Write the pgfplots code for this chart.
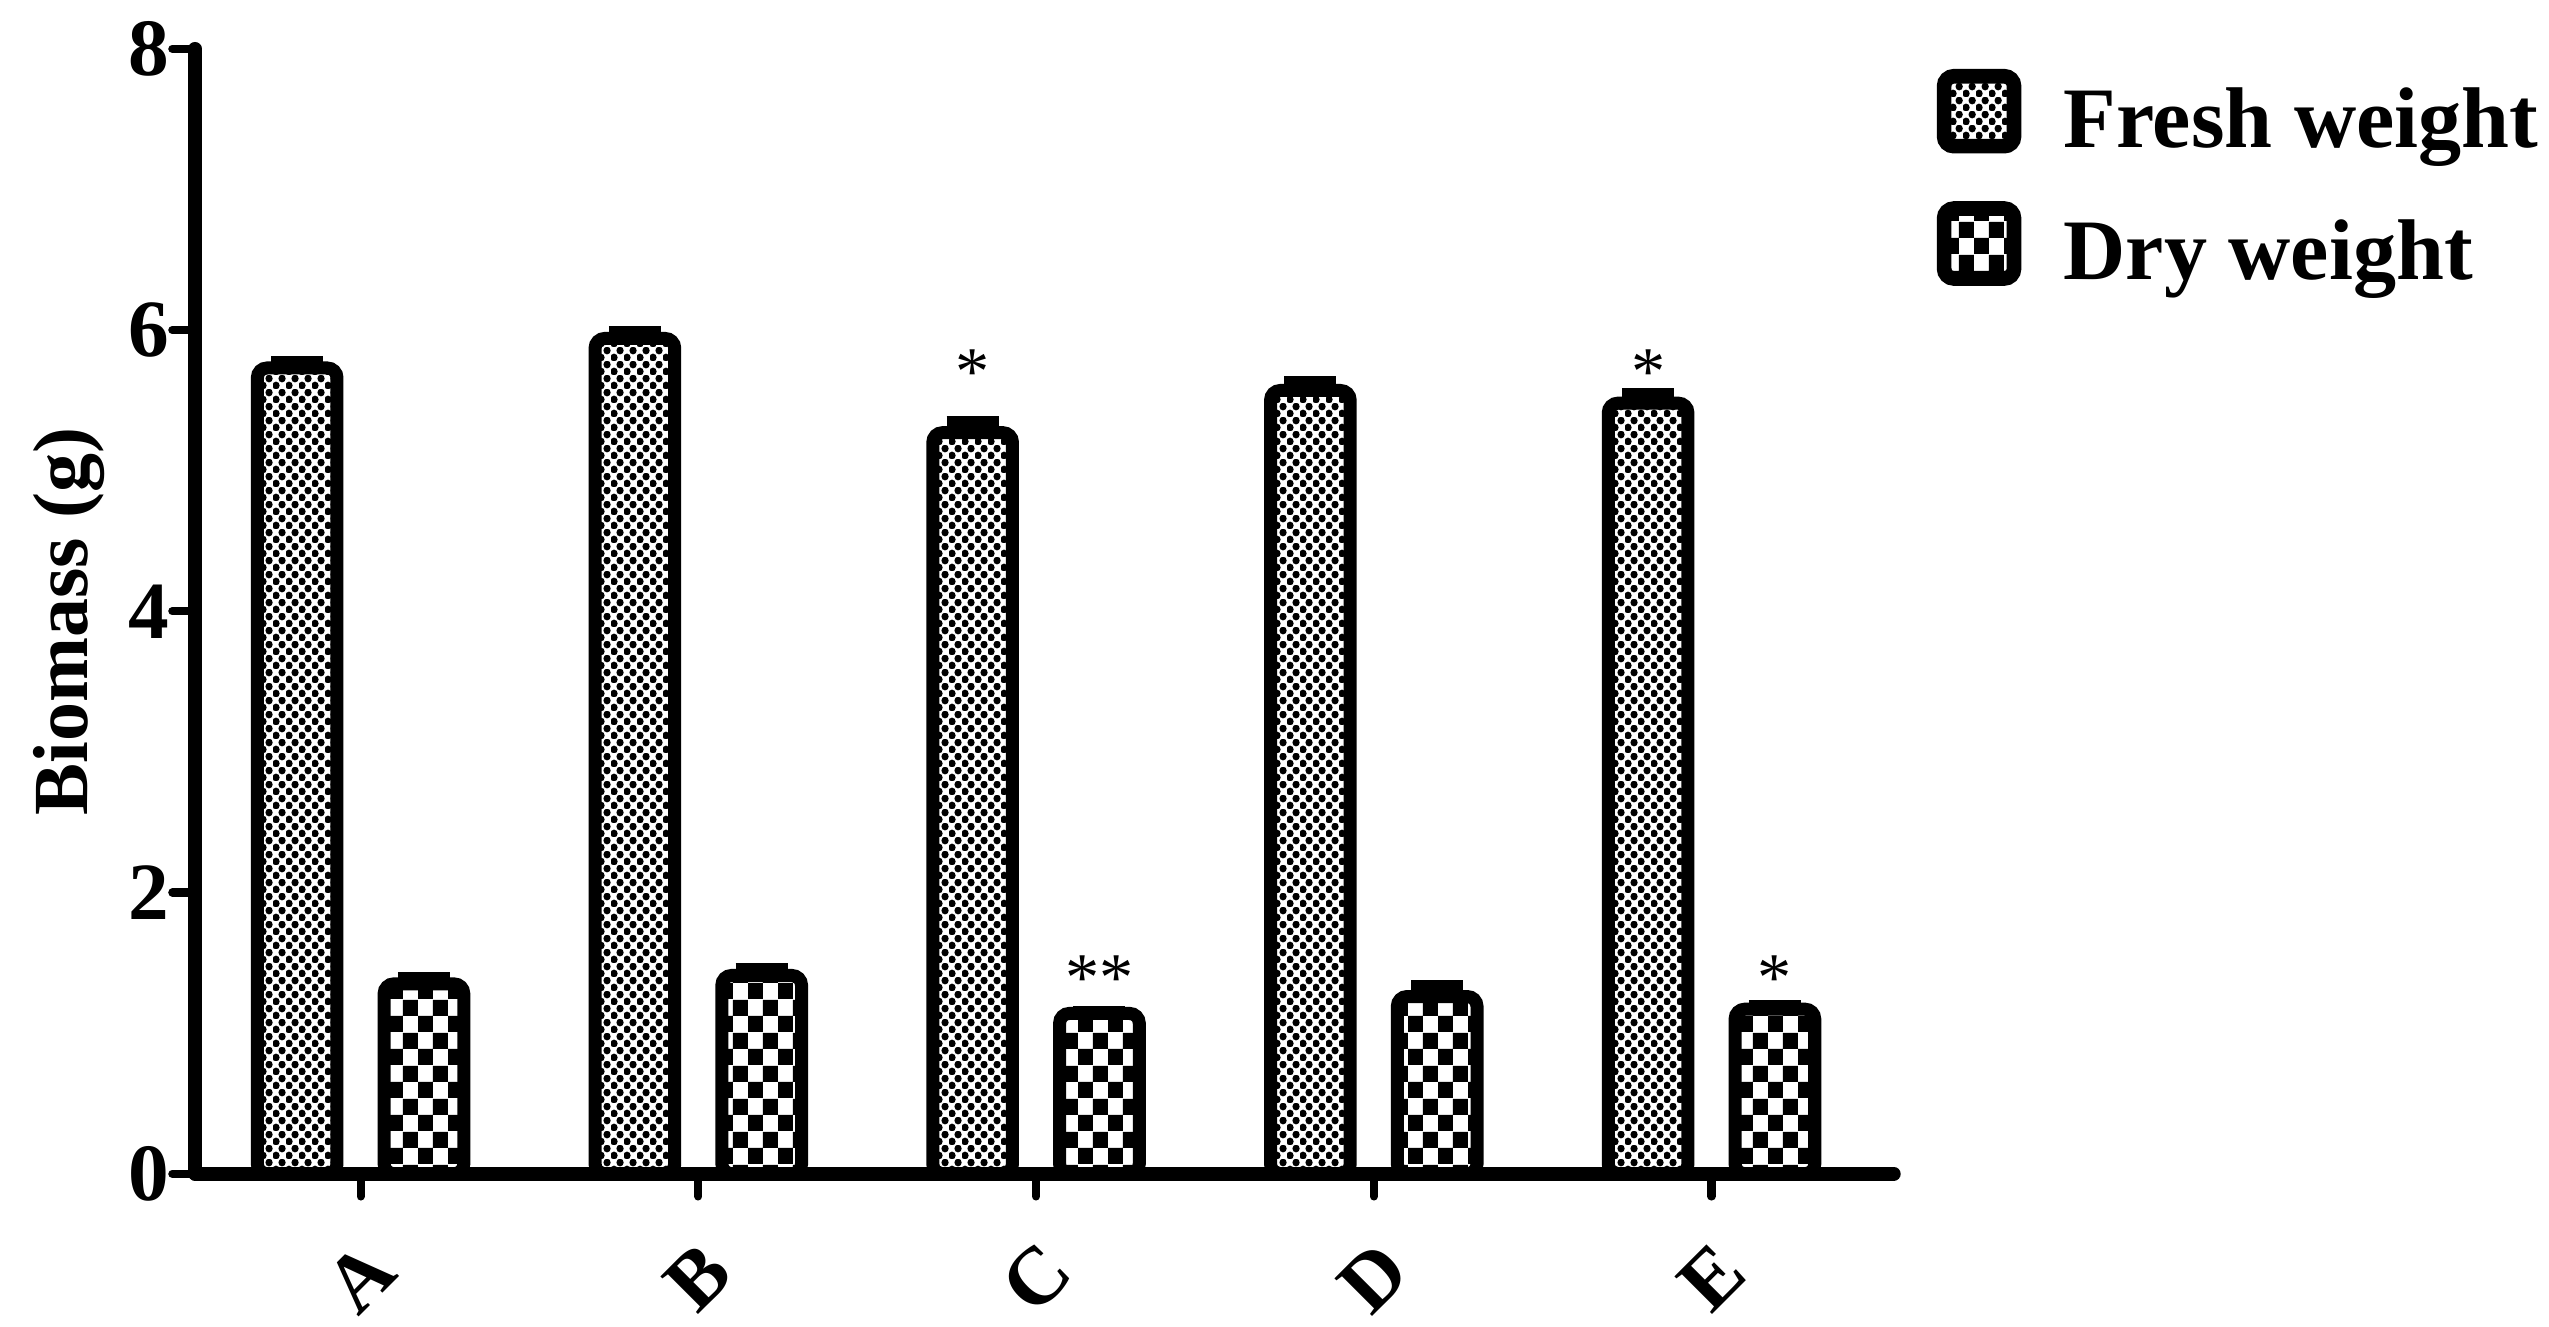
\documentclass[border=0pt]{standalone}
\usepackage{fontspec}
\setmainfont{Liberation Serif}
\usepackage{pgfplots}
\pgfplotsset{compat=1.18}
\usetikzlibrary{patterns}

% fine dot checker (fresh weight) and coarse checker (dry weight)
\pgfdeclarepatternformonly{finedots}{\pgfpointorigin}{\pgfqpoint{4pt}{4.3pt}}{\pgfqpoint{4pt}{4.3pt}}{%
  \pgfpathcircle{\pgfqpoint{1pt}{1.075pt}}{1.2pt}
  \pgfpathcircle{\pgfqpoint{3pt}{3.225pt}}{1.2pt}
  \pgfusepath{fill}}
\pgfdeclarepatternformonly{bigcheck}{\pgfpointorigin}{\pgfqpoint{9.2pt}{10pt}}{\pgfqpoint{9.2pt}{10pt}}{%
  \pgfpathrectangle{\pgfpointorigin}{\pgfqpoint{4.6pt}{5pt}}
  \pgfpathrectangle{\pgfqpoint{4.6pt}{5pt}}{\pgfqpoint{4.6pt}{5pt}}
  \pgfusepath{fill}}

\begin{document}
\begin{tikzpicture}
\begin{axis}[
    scale only axis, width=522.5pt, height=346pt,
    xmin=-0.49, xmax=4.54, ymin=0, ymax=8,
    axis x line*=bottom, axis y line*=left,
    axis line style={line width=4.2pt, line cap=round},
    ybar, bar width=24.5pt,
    xtick={0,1,2,3,4}, xticklabels={A,B,C,D,E},
    ytick={0,2,4,6,8},
    tick align=outside, major tick length=7pt,
    tick style={line width=2.5pt, black, line cap=round},
    /pgf/number format/assume math mode=true,
    tick label style={font=\fontsize{25}{28}\selectfont\bfseries},
    yticklabel style={xshift=2.5pt},
    xticklabel style={yshift=-25pt, rotate=45, anchor=center, inner sep=0pt},
    ylabel={Biomass (g)},
    ylabel style={font=\fontsize{24}{28}\selectfont\bfseries, at={(axis description cs:-0.074,0.491)}, anchor=center},
    legend style={at={(1,1)}, anchor=north west, xshift=10pt, yshift=-4pt, draw=none, fill=none,
        font=\fontsize{26.5}{30}\selectfont\bfseries, row sep=13pt,
        /tikz/every odd column/.append style={column sep=11pt}},
    legend cell align=left,
    error bars/y dir=plus, error bars/y explicit,
    error bars/error bar style={line width=4pt},
    error bars/error mark options={rotate=90, mark size=8pt, line width=4pt},
]
\addplot[bar shift=-19.5pt, draw=black, line width=4pt, rounded corners=3pt, pattern=finedots,
    legend image code/.code={\draw[rounded corners=3pt, line width=4.5pt, pattern=finedots] (0pt,-8pt) rectangle (21.5pt,13.5pt);}]
    coordinates {(0,5.73) +- (0,0.04) (1,5.94) +- (0,0.04) (2,5.27) +- (0,0.07) (3,5.57) +- (0,0.06) (4,5.48) +- (0,0.06)};
\addlegendentry{Fresh weight}
\addplot[bar shift=19.5pt, draw=black, line width=4pt, rounded corners=3pt, pattern=bigcheck,
    legend image code/.code={\draw[rounded corners=3pt, line width=4.5pt, pattern=bigcheck] (0pt,-8pt) rectangle (21.5pt,13.5pt);}]
    coordinates {(0,1.35) +- (0,0.04) (1,1.41) +- (0,0.04) (2,1.14) +- (0,0.01) (3,1.26) +- (0,0.07) (4,1.17) +- (0,0.02)};
\addlegendentry{Dry weight}
\node[font=\fontsize{21}{24}\selectfont, xshift=-19.5pt] at (axis cs:2,5.70) {*};
\node[font=\fontsize{21}{24}\selectfont, xshift=-19.5pt] at (axis cs:4,5.70) {*};
\node[font=\fontsize{21}{24}\selectfont, xshift=19.5pt] at (axis cs:2,1.39) {**};
\node[font=\fontsize{21}{24}\selectfont, xshift=19.5pt] at (axis cs:4,1.39) {*};
\coordinate (o) at (rel axis cs:0,0);
\end{axis}
\pgfresetboundingbox
\path ([shift={(-60pt,-47pt)}]o) rectangle ([shift={(724pt,361pt)}]o);
\end{tikzpicture}
\end{document}
